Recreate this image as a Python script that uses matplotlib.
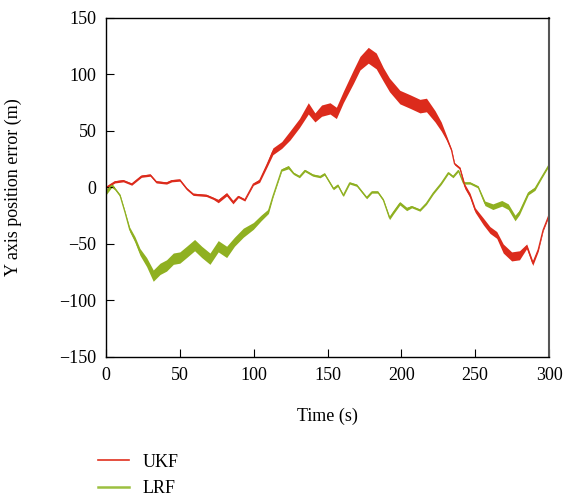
import numpy as np
import matplotlib.pyplot as plt

plt.rcParams['font.family'] = ['Liberation Serif', 'DejaVu Serif']

# UKF: time (s), position error (m), half width of the noise band (m)
ukf_t = [0, 6, 11.7, 17.4, 24, 30, 34, 41, 44.5, 50, 54.6, 59, 68, 72.7, 76, 81.7, 86, 89.6,
         94, 99.8, 104, 109, 113, 119, 124.6, 131, 137, 141.5, 146, 151.7, 156, 160.7, 167.5,
         172, 177.6, 183, 187.8, 192, 199, 206, 212.6, 217, 222.8, 227, 230.7, 234, 236, 239.7,
         243, 246.5, 250, 255.5, 260, 264.6, 269, 274.7, 280, 284.9, 289, 292.7, 296, 299.5, 300]
ukf_y = [0, 5, 6, 3, 10, 11, 5, 4, 6, 6.6, -1, -6, -7, -9.6, -12, -6, -13, -8,
         -11, 3, 6, 20, 32, 37.6, 46, 57, 70, 62, 68, 70, 66, 80, 98,
         110, 117, 112, 100, 90.7, 80, 76, 72, 73, 63, 54, 43.5, 33, 21, 17,
         1, -7, -20, -30, -37.6, -42, -54, -61, -60, -52, -67, -55, -37.6, -26, -24]
ukf_hw = [0.8, 1, 1, 1, 1, 1, 1, 1, 1, 1, 1, 1, 1, 1, 1.5, 1.5, 1.5, 1,
          1, 1, 1.5, 2, 3, 3, 4, 4, 5, 4, 5, 5, 5, 5, 6,
          6, 7, 7, 6, 6, 6, 6, 6, 6, 5, 4, 2, 1, 1, 1,
          2, 2, 2, 3, 3, 3, 4, 4, 4, 2, 2, 1.5, 1, 1, 1]

# LRF
lrf_t = [0, 3.8, 6, 9.5, 12.9, 16, 19.6, 23, 27.5, 32, 36.6, 41, 45.6, 50, 54.6, 60, 64.8,
         70.4, 76, 81.7, 87, 93, 99.8, 105, 110, 113, 119, 123.5, 127, 131, 134.7, 140, 145,
         148, 154, 157, 160.7, 165, 169.8, 176.5, 180, 184, 187.8, 192, 194.6, 199, 203.6,
         207, 212.6, 217, 221.6, 227, 231.8, 235, 238.6, 242, 246.5, 252, 256.6, 262, 268,
         272.4, 277, 280, 286, 290.5, 295, 300]
lrf_y = [-4, 2, -1, -7, -22, -37, -46, -57, -66, -78, -72, -69, -63, -62, -57, -51, -57,
         -63, -52, -57, -48, -40, -34, -27, -21, -8, 15.5, 18, 12.5, 9.6, 15, 11, 9.6,
         12, -1, 2, -7, 4, 2, -9, -4, -4, -11, -27, -22, -14, -19,
         -17, -20, -14, -5, 3.7, 13, 9.6, 15, 4, 4, 0.5, -14, -17, -14,
         -17, -27, -22, -5, -1, 9, 20]
lrf_hw = [2.5, 2, 1, 1, 1, 2, 2.5, 3, 4, 5, 5, 5, 5, 5, 5, 5, 5,
          5, 5, 5, 4, 4, 3, 2.5, 2, 1, 1, 1.5, 1, 1, 1, 1, 1,
          1, 1, 1, 1, 1, 1, 1, 1, 1, 1, 1.5, 1.5, 1.5, 1.5,
          1, 1, 1, 1, 1, 1, 1, 1, 1, 1, 1, 2, 2.5, 2.5,
          2.5, 2.5, 2, 1.5, 1.5, 1, 1]

red = '#dc2b1c'
green = '#8fb021'

fig = plt.figure(figsize=(5.65, 4.97), dpi=100)
ax = fig.add_axes([0.1876, 0.2817, 0.7841, 0.6821])

for t, y, hw, c in [(lrf_t, lrf_y, lrf_hw, green), (ukf_t, ukf_y, ukf_hw, red)]:
    t = np.array(t)
    y = np.array(y)
    hw = np.array(hw)
    ax.fill_between(t, y - hw, y + hw, color=c, lw=0)
    ax.plot(t, y, color=c, lw=0.9)

ax.set_xlim(0, 300)
ax.set_ylim(-150, 150)
ax.set_xticks(range(0, 301, 50))
ax.set_yticks(range(-150, 151, 50))
ax.tick_params(axis='both', direction='in', length=6, labelsize=13, top=False, right=False)
ax.tick_params(axis='x', pad=7)
ax.tick_params(axis='y', pad=7)
for s in ax.spines.values():
    s.set_linewidth(1.0)
ax.spines['right'].set_color('#555555')
ax.spines['right'].set_linewidth(1.5)
ax.set_xlabel('Time (s)', fontsize=13, labelpad=17)
ax.set_ylabel('Y axis position error (m)', fontsize=13)
ax.yaxis.set_label_coords(-0.19, 0.5)

h1, = ax.plot([], [], color='#e0301e', lw=1.2, label='UKF')
h2, = ax.plot([], [], color='#9cc040', lw=1.8, label='LRF')
fig.legend(handles=[h1, h2], loc='upper left', bbox_to_anchor=(0.16, 0.102),
           frameon=False, fontsize=13, handlelength=1.75, handletextpad=0.75,
           labelspacing=0.55, borderaxespad=0)

plt.savefig('out.png', dpi=100)
